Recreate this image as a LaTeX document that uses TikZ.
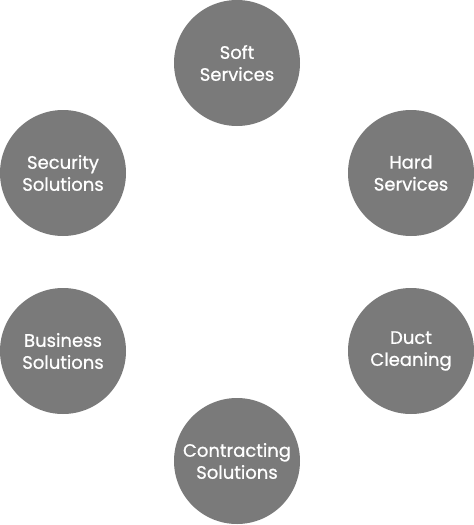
\documentclass[tikz,border=0pt]{standalone}
\usepackage{fontspec}
\setmainfont{Poppins}[FakeBold=0.8]
\definecolor{discgray}{HTML}{7A7A7A}
\tikzset{
  service/.style={circle, fill=discgray, minimum size=126pt, inner sep=0pt,
    align=center, text=white, font=\fontsize{18}{22}\selectfont}
}
\begin{document}
\begin{tikzpicture}[x=1pt,y=-1pt]
\useasboundingbox (0,0) rectangle (474,525);
\node[service] (soft) at (237,63) {Soft\\Services};
\node[service] (hard) at (411,173) {Hard\\Services};
\node[service] (duct) at (411,351) {Duct\\Cleaning};
\node[service] (contract) at (237,461) {Contracting\\Solutions};
\node[service] (business) at (63,351) {Business\\Solutions};
\node[service] (security) at (63,173) {Security\\Solutions};
\end{tikzpicture}
\end{document}
